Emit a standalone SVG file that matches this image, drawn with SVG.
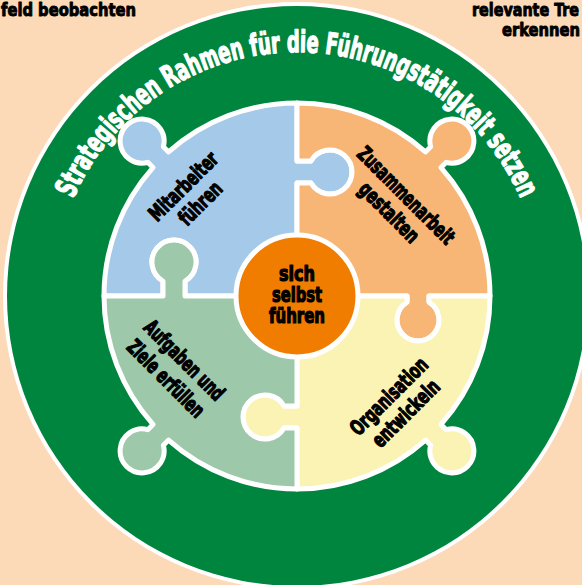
<svg xmlns="http://www.w3.org/2000/svg" xmlns:xlink="http://www.w3.org/1999/xlink" width="582" height="585" viewBox="0 0 582 585">
<style>
.bg{fill:#FCD9B7}
.piece{stroke:#fff;stroke-width:5;stroke-linejoin:round}
.t{font-family:"Liberation Sans Narrow","DejaVu Sans Condensed","Liberation Sans",sans-serif;font-weight:bold;fill:#000;stroke:#000;stroke-width:1.2;stroke-linejoin:round;text-anchor:middle;font-size:21px}
.corner{font-family:"Liberation Sans Narrow","DejaVu Sans Condensed","Liberation Sans",sans-serif;font-weight:bold;fill:#000;stroke:#000;stroke-width:0.9;stroke-linejoin:round;font-size:18px}
.arc{font-family:"Liberation Sans Narrow","DejaVu Sans Condensed","Liberation Sans",sans-serif;font-weight:bold;fill:#fff;stroke:#fff;stroke-width:1.3;stroke-linejoin:round;font-size:30px}
</style>
<defs>
<path id="arcPath" d="M 53,296 A 244 244 0 0 1 541,296"/>
</defs>
<rect class="bg" x="0" y="0" width="582" height="585"/>
<g id="corner-left"><text class="corner" x="1" y="16" textLength="135" lengthAdjust="spacingAndGlyphs">feld beobachten</text></g>
<g id="corner-right">
<text class="corner" x="472" y="16" textLength="107" lengthAdjust="spacingAndGlyphs">relevante Tre</text>
<text class="corner" x="502" y="36" textLength="78" lengthAdjust="spacingAndGlyphs">erkennen</text>
</g>
<g id="rahmen">
<circle cx="297" cy="296" r="294" fill="#fff"/>
<circle cx="297" cy="296" r="290" fill="#00853F"/>
<text class="arc"><textPath xlink:href="#arcPath" href="#arcPath" startOffset="50%" text-anchor="middle" textLength="566" lengthAdjust="spacingAndGlyphs">Strategischen Rahmen für die Führungstätigkeit setzen</textPath></text>
</g>
<g id="connectors"></g>
<g id="mitarbeiter">
<path class="piece" fill="#A5C9E8" d="M 297,296 L 185,296 L 185,281.05 A 22 22 0 1 0 163,281.05 L 163,296 L 104,296 A 193 193 0 0 1 152.96,167.55 L 147.80,162.36 A 22 22 0 1 1 163.36,146.80 L 168.55,151.96 A 193 193 0 0 1 297,103 L 297,161 L 310.95,161 A 22 22 0 1 1 310.95,183 L 297,183 Z"/>
<g transform="translate(192,195) rotate(-45)">
<text class="t" x="0" y="-5" textLength="88" lengthAdjust="spacingAndGlyphs">Mitarbeiter</text>
<text class="t" x="0" y="19" textLength="52" lengthAdjust="spacingAndGlyphs">führen</text>
</g>
</g>
<g id="zusammenarbeit">
<path class="piece" fill="#F7B676" d="M 297,296 L 297,183 L 310.95,183 A 22 22 0 1 0 310.95,161 L 297,161 L 297,103 A 193 193 0 0 1 425.45,151.96 L 430.64,146.80 A 22 22 0 1 1 446.20,162.36 L 441.04,167.55 A 193 193 0 0 1 490,296 L 429,296 L 429,302.11 A 21 21 0 1 1 407,302.11 L 407,296 Z"/>
<g transform="translate(397.5,204) rotate(45)">
<text class="t" x="0" y="-5" textLength="128" lengthAdjust="spacingAndGlyphs">Zusammenarbeit</text>
<text class="t" x="0" y="19" textLength="76" lengthAdjust="spacingAndGlyphs">gestalten</text>
</g>
</g>
<g id="organisation">
<path class="piece" fill="#FAF3B4" d="M 297,296 L 407,296 L 407,302.11 A 21 21 0 1 0 429,302.11 L 429,296 L 490,296 A 193 193 0 0 1 441.04,424.45 L 446.20,429.64 A 22 22 0 1 1 430.64,445.20 L 425.45,440.04 A 193 193 0 0 1 297,489 L 297,428 L 284.05,428 A 22 22 0 1 1 284.05,406 L 297,406 Z"/>
<g transform="translate(397.5,405) rotate(-45)">
<text class="t" x="0" y="-5" textLength="100" lengthAdjust="spacingAndGlyphs">Organisation</text>
<text class="t" x="0" y="19" textLength="86" lengthAdjust="spacingAndGlyphs">entwickeln</text>
</g>
</g>
<g id="aufgaben">
<path class="piece" fill="#9EC8AA" d="M 297,296 L 297,406 L 284.05,406 A 22 22 0 1 0 284.05,428 L 297,428 L 297,489 A 193 193 0 0 1 168.55,440.04 L 163.36,445.20 A 22 22 0 1 1 147.80,429.64 L 152.96,424.45 A 193 193 0 0 1 104,296 L 163,296 L 163,281.05 A 22 22 0 1 1 185,281.05 L 185,296 Z"/>
<g transform="translate(175,369.5) rotate(45)">
<text class="t" x="0" y="-6" textLength="104" lengthAdjust="spacingAndGlyphs">Aufgaben und</text>
<text class="t" x="0" y="20" textLength="100" lengthAdjust="spacingAndGlyphs">Ziele erfüllen</text>
</g>
</g>
<g id="selbst">
<circle cx="297" cy="296" r="61" fill="#F07C00" stroke="#fff" stroke-width="5"/>
<text class="t" x="297" y="281" textLength="36" lengthAdjust="spacingAndGlyphs">sich</text>
<text class="t" x="297" y="302" textLength="50" lengthAdjust="spacingAndGlyphs">selbst</text>
<text class="t" x="297" y="323" textLength="56" lengthAdjust="spacingAndGlyphs">führen</text>
</g>
</svg>
